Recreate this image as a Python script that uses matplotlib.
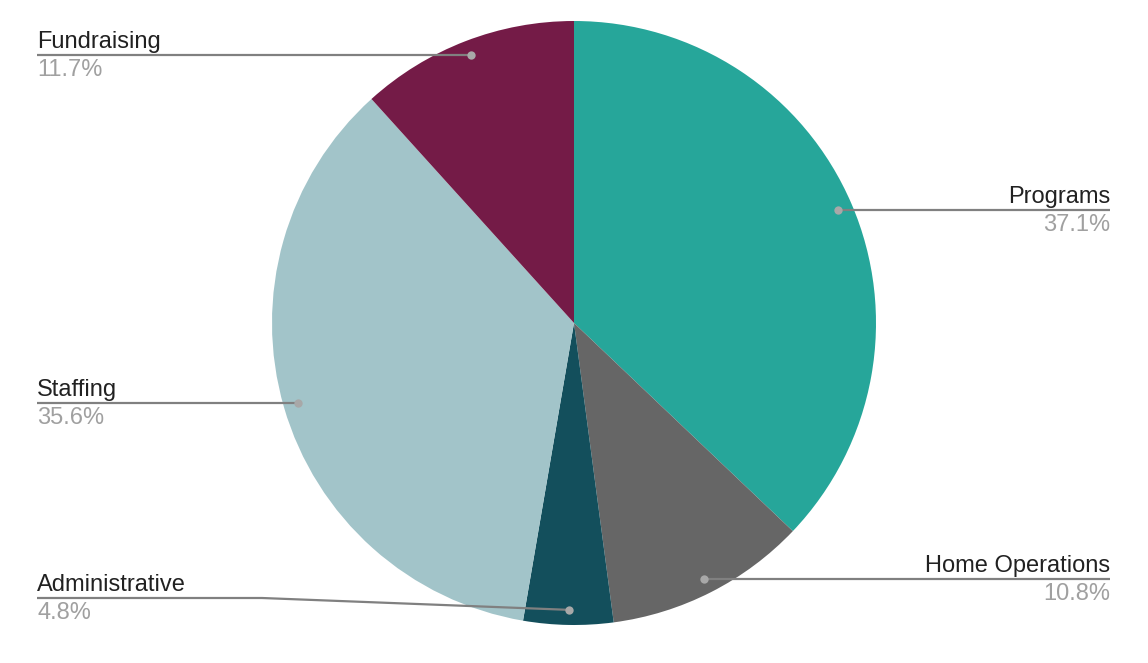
import numpy as np
import matplotlib
matplotlib.use("Agg")
import matplotlib.pyplot as plt

categories = ["Programs", "Home Operations", "Administrative", "Staffing", "Fundraising"]
values = [37.1, 10.8, 4.8, 35.6, 11.7]
colors = ["#26A69A", "#666666", "#134F5C", "#A2C4C9", "#741B47"]
pct_labels = ["37.1%", "10.8%", "4.8%", "35.6%", "11.7%"]

W, H = 1148, 663
fig = plt.figure(figsize=(W / 100, H / 100), dpi=100)
ax = fig.add_axes([0, 0, 1, 1])

cx, cy, R = 574, H - 323, 302
ax.pie(values, colors=colors, startangle=90, counterclock=False,
       center=(cx, cy), radius=R, frame=True,
       wedgeprops=dict(linewidth=0))
ax.set_xlim(0, W)
ax.set_ylim(0, H)
ax.set_aspect("equal")
ax.axis("off")

plt.rcParams["font.family"] = ["Liberation Sans", "DejaVu Sans"]

# label anchor dots at middle of each slice
cum = np.cumsum([0] + values[:-1])
mids = 90 - (cum + np.array(values) / 2) * 3.6
min_y = H - 598  # lowest label line allowed
for name, pct, ang in zip(categories, pct_labels, mids):
    a = np.radians(ang)
    dx = cx + 0.95 * R * np.cos(a)
    dy = cy + 0.95 * R * np.sin(a)
    ly = max(dy, min_y)
    if np.cos(a) >= 0:
        xs = [dx, 1110]
        ys = [dy, ly]
        tx, ha = 1110, "right"
    else:
        if ly != dy:
            xs = [dx, 262, 37]
            ys = [dy, ly, ly]
        else:
            xs = [dx, 37]
            ys = [dy, ly]
        tx, ha = 37, "left"
    ax.plot(xs, ys, color="#808080", lw=1.6, solid_capstyle="butt", zorder=3)
    ax.scatter([dx], [dy], s=36, color="#a8a8a8", zorder=4, linewidths=0)
    ax.text(tx, ly + 7, name, ha=ha, va="baseline", fontsize=17, color="#212121")
    ax.text(tx, ly - 4, pct, ha=ha, va="top", fontsize=17, color="#a0a0a0")

fig.savefig("out.png", dpi=100, facecolor="white")
